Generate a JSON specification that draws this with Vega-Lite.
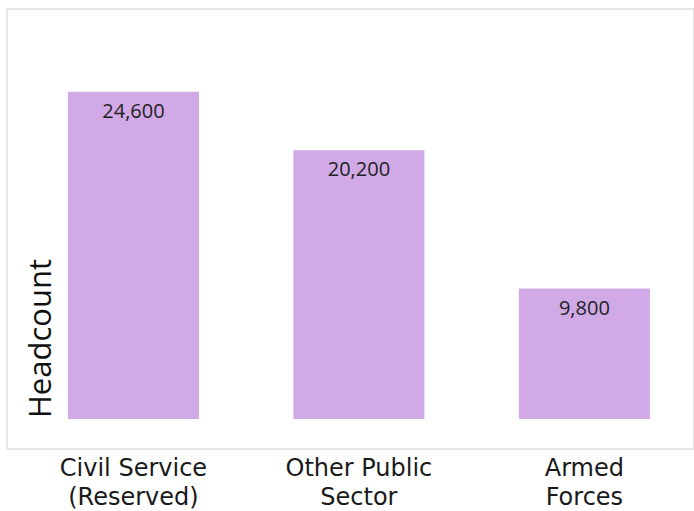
{
  "$schema": "https://vega.github.io/schema/vega-lite/v6.json",
  "autosize": {"type": "none"},
  "padding": {"left": 7, "top": 9, "right": 0, "bottom": 62},
  "width": 687,
  "height": 440,
  "background": "white",
  "config": {
    "view": {"stroke": "#e6e6e6", "strokeWidth": 2}
  },
  "data": {
    "values": [
      {"group": "Civil Service (Reserved)", "headcount": 24600, "label": "24,600"},
      {"group": "Other Public Sector", "headcount": 20200, "label": "20,200"},
      {"group": "Armed Forces", "headcount": 9800, "label": "9,800"}
    ]
  },
  "encoding": {
    "x": {
      "field": "group",
      "type": "nominal",
      "sort": null,
      "scale": {"paddingInner": 0.419, "paddingOuter": 0.233, "align": 0.58},
      "axis": {
        "title": null,
        "domain": false,
        "ticks": false,
        "tickSize": 0,
        "grid": false,
        "labelAngle": 0,
        "labelPadding": 7,
        "labelFont": "DejaVu Sans",
        "labelFontSize": 24,
        "labelColor": "#1a1a1a",
        "labelLineHeight": 29,
        "labelLimit": 0,
        "labelExpr": "datum.label == 'Civil Service (Reserved)' ? ['Civil Service', '(Reserved)'] : datum.label == 'Other Public Sector' ? ['Other Public', 'Sector'] : ['Armed', 'Forces']"
      }
    }
  },
  "layer": [
    {
      "mark": {"type": "bar", "color": "#D0A9E6"},
      "encoding": {
        "y": {
          "field": "headcount",
          "type": "quantitative",
          "scale": {"domain": [-2255, 30816], "nice": false, "zero": false},
          "axis": {
            "title": "Headcount",
            "labels": false,
            "ticks": false,
            "domain": false,
            "grid": false,
            "titleFont": "Open Sans",
            "titleFontSize": 31,
            "titleFontWeight": "normal",
            "titleColor": "#111111",
            "titleAngle": -90,
            "titleAlign": "center",
            "titleBaseline": "middle",
            "titleX": 34,
            "titleY": 329
          }
        },
        "y2": {"datum": 0}
      }
    },
    {
      "mark": {"type": "text", "baseline": "top", "dy": 10, "font": "Open Sans", "fontSize": 20, "color": "#222222"},
      "encoding": {
        "y": {"field": "headcount", "type": "quantitative"},
        "text": {"field": "label"}
      }
    }
  ]
}
